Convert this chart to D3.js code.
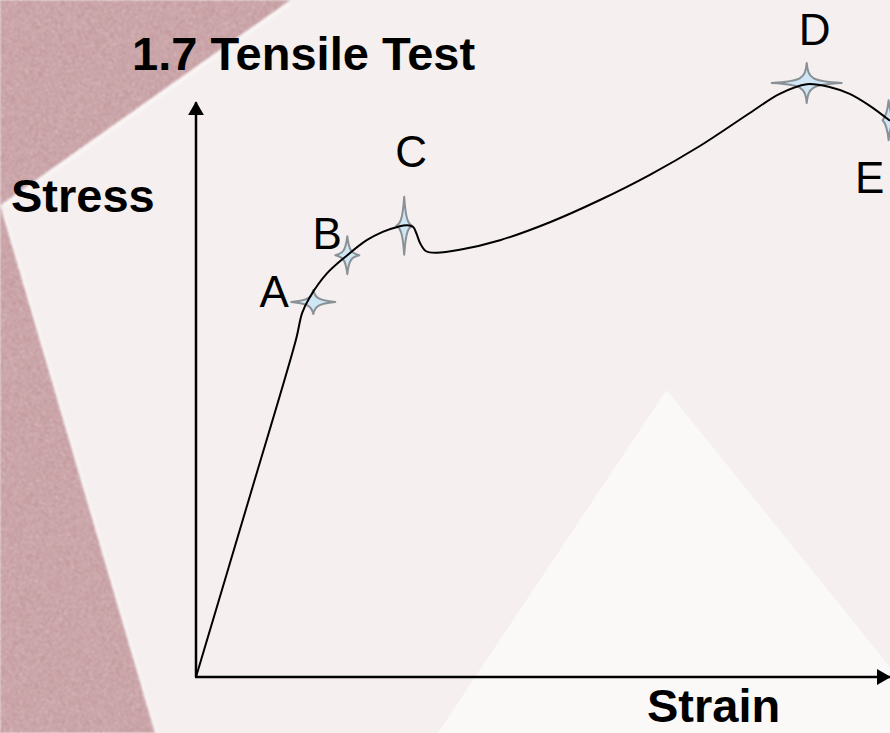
<!DOCTYPE html>
<html>
<head>
<meta charset="utf-8">
<script src="https://cdn.jsdelivr.net/npm/d3@7"></script>
<style>
  html, body { margin: 0; padding: 0; background: #f5efef; overflow: hidden; }
  #chart svg { display: block; }
</style>
</head>
<body>
<div id="chart"></div>
<script>
// Stress-strain curve (strain 0..100, stress 0..100, arbitrary units)
const strain = [0, 7.8, 14.4, 15.3, 16.4, 18.9, 21.8, 24.6, 26.9, 29.0, 30.4, 31.3, 31.8, 32.3, 33.1, 34.6,
                38.0, 43.8, 51.0, 58.2, 65.4, 72.6, 79.8, 84.1, 88.0, 91.4, 94.2, 97.1, 100];
const stress = [0, 30.3, 56.2, 60.7, 63.3, 67.3, 70.3, 72.8, 74.2, 75.0, 75.3, 75.0, 73.8, 72.3, 71.0, 70.7,
                71.2, 72.8, 75.8, 79.5, 83.7, 88.5, 94.0, 97.2, 98.8, 98.3, 97.2, 95.2, 92.7];

// Marked points on the curve
const pointNames  = ["A", "B", "C", "D", "E"];
const pointStrain = [16.9, 21.8, 30.0, 88.0, 99.8];
const pointStress = [62.5, 70.3, 75.2, 99.0, 92.8];

// Axis ends (where the arrows stop)
const axisEnd = { strain: 100, stress: 95.8 };

const titleText = "1.7 Tensile Test";
const xLabel = "Strain";
const yLabel = "Stress";

function drawChart(){
const W = 890, H = 733;

const svg = d3.select("#chart")
  .append("svg")
  .attr("width", W)
  .attr("height", H);

const defs = svg.append("defs");

// grain for the dusty pink band on the left
const grain = defs.append("filter")
  .attr("id", "grain")
  .attr("x", 0).attr("y", 0).attr("width", "100%").attr("height", "100%");
grain.append("feTurbulence")
  .attr("type", "fractalNoise")
  .attr("baseFrequency", 0.7)
  .attr("numOctaves", 2)
  .attr("seed", 4)
  .attr("result", "noise");
grain.append("feColorMatrix")
  .attr("in", "noise")
  .attr("type", "matrix")
  .attr("values", "0 0 0 0 0.87  0 0 0 0 0.70  0 0 0 0 0.71  2.4 0 0 0 -1.0")
  .attr("result", "light");
grain.append("feComposite")
  .attr("in", "light").attr("in2", "SourceAlpha").attr("operator", "in")
  .attr("result", "lightIn");
grain.append("feColorMatrix")
  .attr("in", "noise")
  .attr("type", "matrix")
  .attr("values", "0 0 0 0 0.58  0 0 0 0 0.38  0 0 0 0 0.41  -2.4 0 0 0 1.25")
  .attr("result", "dark");
grain.append("feComposite")
  .attr("in", "dark").attr("in2", "SourceAlpha").attr("operator", "in")
  .attr("result", "darkIn");
grain.append("feMerge").selectAll("feMergeNode")
  .data(["SourceGraphic", "darkIn", "lightIn"])
  .enter().append("feMergeNode")
  .attr("in", d => d);

const soft = defs.append("filter").attr("id", "soft");
soft.append("feGaussianBlur").attr("stdDeviation", 1.2);

// Background: light page, pink wedge, faint white triangle
const wedge = [[0, 0], [0.326 * W, 0], [0, 0.28 * H], [0.174 * W, H], [0, H]];

svg.append("rect")
  .attr("width", W).attr("height", H)
  .attr("fill", "#f5efef");

svg.append("polygon")
  .attr("points", wedge.join(" "))
  .attr("fill", "#faf5f5")
  .attr("transform", "translate(4,3)")
  .attr("filter", "url(#soft)");

const band = svg.append("g").attr("filter", "url(#soft)");
band.append("polygon")
  .attr("points", wedge.join(" "))
  .attr("fill", "#ba8a8f")
  .attr("filter", "url(#grain)");

svg.append("polygon")
  .attr("points", [[0.749 * W, 0.532 * H], [0.492 * W, H], [W, H], [W, 0.91 * H]].join(" "))
  .attr("fill", "#fbf8f8");

// Scales
const x = d3.scaleLinear().domain([0, 100]).range([196, 890]);
const y = d3.scaleLinear().domain([0, 100]).range([677, 77]);

// Axes with arrow heads
const arrow = defs.append("marker")
  .attr("id", "arrow")
  .attr("viewBox", "0 0 14 16")
  .attr("refX", 13).attr("refY", 8)
  .attr("markerWidth", 14).attr("markerHeight", 16)
  .attr("markerUnits", "userSpaceOnUse")
  .attr("orient", "auto");
arrow.append("path").attr("d", "M0,0 L14,8 L0,16 Z").attr("fill", "#000");

svg.append("line")
  .attr("x1", x(0)).attr("y1", y(0))
  .attr("x2", x(0)).attr("y2", y(axisEnd.stress))
  .attr("stroke", "#000").attr("stroke-width", 2.5)
  .attr("marker-end", "url(#arrow)");

svg.append("line")
  .attr("x1", x(0) - 1).attr("y1", y(0))
  .attr("x2", x(axisEnd.strain)).attr("y2", y(0))
  .attr("stroke", "#000").attr("stroke-width", 2.5)
  .attr("marker-end", "url(#arrow)");

// sparkle size for each point (half lengths of the arms) + label offsets
const starStyle = {
  A: { h: 22, v: 12, dx: -39, dy: 5 },
  B: { h: 12, v: 19, dx: -20, dy: -6 },
  C: { h: 8,  v: 29, dx: 7,   dy: -59 },
  D: { h: 35, v: 20, dx: 8,   dy: -38 },
  E: { h: 6,  v: 20, dx: -19, dy: 73 }
};

function starPath(h, v){
  const c = 4.5, k = 1.6;
  return `M0,${-v} C${k},${-c} ${c},${-k} ${h},0 ` +
         `C${c},${k} ${k},${c} 0,${v} ` +
         `C${-k},${c} ${-c},${k} ${-h},0 ` +
         `C${-c},${-k} ${-k},${-c} 0,${-v} Z`;
}

const points = pointNames.map((n, i) => ({ name: n, strain: pointStrain[i], stress: pointStress[i] }));

svg.selectAll(".star")
  .data(points)
  .enter().append("path")
  .attr("class", "star")
  .attr("transform", d => `translate(${x(d.strain)},${y(d.stress)})`)
  .attr("d", d => starPath(starStyle[d.name].h, starStyle[d.name].v))
  .attr("fill", "#cfe6f4")
  .attr("stroke", "#8a9196")
  .attr("stroke-width", 2)
  .attr("stroke-linejoin", "round");

// The curve
const curveData = strain.map((s, i) => ({ strain: s, stress: stress[i] }));
const line = d3.line()
  .x(d => x(d.strain))
  .y(d => y(d.stress))
  .curve(d3.curveCatmullRom.alpha(0.5));

svg.append("path")
  .datum(curveData)
  .attr("d", line)
  .attr("fill", "none")
  .attr("stroke", "#000")
  .attr("stroke-width", 2);

// Point letters
svg.selectAll(".ptlabel")
  .data(points)
  .enter().append("text")
  .attr("class", "ptlabel")
  .attr("x", d => x(d.strain) + starStyle[d.name].dx)
  .attr("y", d => y(d.stress) + starStyle[d.name].dy)
  .attr("text-anchor", "middle")
  .attr("font-family", "Liberation Sans, Arial, sans-serif")
  .attr("font-size", 44)
  .attr("fill", "#000")
  .text(d => d.name);

// Title and axis names
const bold = sel => sel
  .attr("font-family", "Liberation Sans, Arial, sans-serif")
  .attr("font-weight", "bold")
  .attr("font-size", 47)
  .attr("fill", "#000");

svg.append("text").attr("x", 132).attr("y", 70).call(bold).text(titleText);
svg.append("text").attr("x", 11).attr("y", 212).call(bold).text(yLabel);
svg.append("text").attr("x", 647).attr("y", 722).call(bold).text(xLabel);
}

drawChart();
</script>
</body>
</html>
